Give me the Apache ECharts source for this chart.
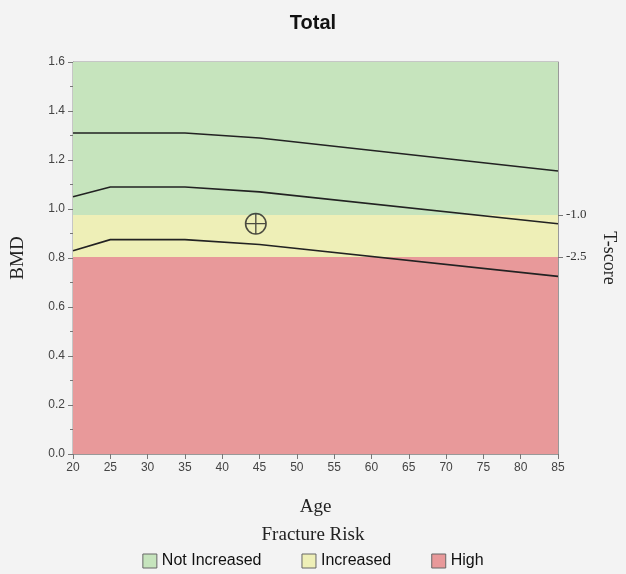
<!DOCTYPE html>
<html lang="en">
<head>
<meta charset="UTF-8">
<title>Total</title>
<script src="https://cdn.jsdelivr.net/npm/echarts@6/dist/echarts.min.js"></script>
</head>
<body style="margin:0;background:#f3f3f3;">
<div id="main" style="width:626px;height:574px;"></div>
<script>
var ages = [20, 25, 35, 45, 85];
var upperLine = [1.31, 1.31, 1.31, 1.29, 1.155];
var midLine = [1.05, 1.09, 1.09, 1.07, 0.94];
var lowerLine = [0.83, 0.875, 0.875, 0.855, 0.725];
var patient = [[44.5, 0.94]];
var tScoreValues = [0.976, 0.804];
var tScoreLabels = ['-1.0', '-2.5'];
var bands = [
    {name: 'Not Increased', from: 0.976, to: 1.6, color: '#c6e4bd'},
    {name: 'Increased', from: 0.804, to: 0.976, color: '#eeefb7'},
    {name: 'High', from: 0, to: 0.804, color: '#e8999a'}
];

function pairs(ys) {
    return ages.map(function (a, i) { return [a, ys[i]]; });
}

var series = [];
bands.forEach(function (b) {
    series.push({
        name: b.name, type: 'line', data: [], itemStyle: {color: b.color},
        markArea: {silent: true, itemStyle: {color: b.color},
            data: [[{yAxis: b.from}, {yAxis: b.to}]]}
    });
});
[upperLine, midLine, lowerLine].forEach(function (l) {
    series.push({type: 'line', data: pairs(l), symbol: 'none', z: 5,
        lineStyle: {color: '#222', width: 1.6}});
});
series.push({type: 'scatter', data: patient, z: 6, symbolSize: 22,
    symbol: 'path://M10,0A10,10,0,1,1,9.99,0ZM10,1.4A8.6,8.6,0,1,0,10.01,1.4ZM9.4,1H10.6V19H9.4ZM1,9.4H19V10.6H1Z',
    itemStyle: {color: '#222'}});

var chart = echarts.init(document.getElementById('main'));
chart.setOption({
    animation: false,
    title: {text: 'Total', left: 'center', top: 8,
        textStyle: {fontFamily: 'Liberation Sans', fontWeight: 'bold', fontSize: 20, color: '#111'}},
    grid: {left: 73, right: 68, top: 62, bottom: 120, show: true, borderColor: '#999', borderWidth: 1},
    legend: {bottom: 0, left: 'center', itemGap: 40, icon: 'rect', itemWidth: 14, itemHeight: 14,
        data: bands.map(function (b) { return b.name; }),
        itemStyle: {borderColor: '#666', borderWidth: 1},
        textStyle: {fontFamily: 'Liberation Sans', fontSize: 16, color: '#111'}},
    graphic: [{type: 'text', left: 'center', top: 526,
        style: {text: 'Fracture Risk', font: '19px "Liberation Serif"', fill: '#222'}}],
    xAxis: {type: 'value', min: 20, max: 85, interval: 5, name: 'Age', nameLocation: 'middle', nameGap: 44,
        nameTextStyle: {fontFamily: 'Liberation Serif', fontSize: 19, color: '#222'},
        axisLine: {lineStyle: {color: '#999'}}, axisTick: {lineStyle: {color: '#777'}},
        axisLabel: {color: '#444', fontSize: 12}, splitLine: {show: false}},
    yAxis: [
        {type: 'value', min: 0, max: 1.6, interval: 0.2, name: 'BMD', nameLocation: 'middle', nameGap: 45,
            nameTextStyle: {fontFamily: 'Liberation Serif', fontSize: 19, color: '#222'},
            axisLine: {show: true, lineStyle: {color: '#999'}}, axisTick: {lineStyle: {color: '#777'}},
            minorTick: {show: true, splitNumber: 2, lineStyle: {color: '#777'}},
            axisLabel: {color: '#444', fontSize: 12, formatter: function (v) { return v.toFixed(1); }},
            splitLine: {show: false}},
        {type: 'value', min: 0, max: 1.6, position: 'right', name: 'T-score', nameLocation: 'middle',
            nameGap: 42, nameRotate: -90,
            nameTextStyle: {fontFamily: 'Liberation Serif', fontSize: 18, color: '#222'},
            axisLine: {show: true, lineStyle: {color: '#999'}},
            axisTick: {customValues: tScoreValues, lineStyle: {color: '#777'}},
            axisLabel: {customValues: tScoreValues, color: '#333', fontSize: 13, fontFamily: 'Liberation Serif',
                formatter: function (v) {
                    var i = tScoreValues.indexOf(v);
                    return i >= 0 ? tScoreLabels[i] : '';
                }},
            splitLine: {show: false}}
    ],
    series: series
});
</script>
</body>
</html>
